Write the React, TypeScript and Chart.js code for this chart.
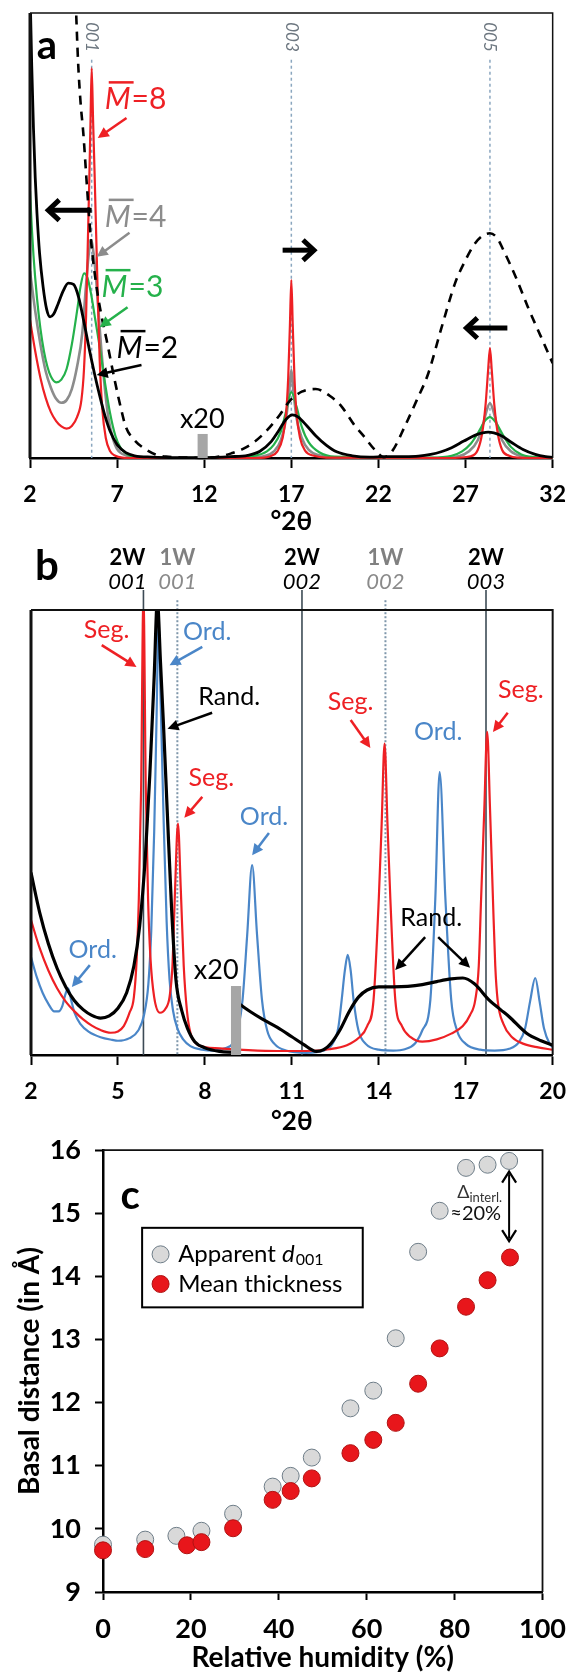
import { useEffect, useRef } from 'react';
import { Chart, registerables } from 'chart.js';

Chart.register(...registerables);

const FONT = 'Lato, "Open Sans", "DejaVu Sans", sans-serif';

// ---------------- Panel a : °2θ vs relative intensity ----------------
const aTicks = [2, 7, 12, 17, 22, 27, 32];
const aReflexPos = [5.54, 17.0, 28.4];
const aReflexLabels = ['001', '003', '005'];

const aM2: [number, number][] = [
  [2.0, 106], [2.1, 88], [2.2, 74], [2.3, 63], [2.4, 55], [2.55, 46], [2.75, 38.5], [2.95, 33.5],
  [3.15, 31.7], [3.35, 32.3], [3.6, 34.5], [3.9, 37.5], [4.2, 39.3], [4.5, 39], [4.8, 36], [5.1, 30.5],
  [5.4, 24.5], [5.7, 19], [6.0, 14], [6.3, 9.5], [6.6, 6], [7.0, 3], [7.5, 1.2], [8.0, 0.5], [9.0, 0.2],
  [10.5, 0.1], [12, 0.1], [13.5, 0.3], [14.5, 0.6], [15.2, 1.5], [15.8, 3.5], [16.3, 6.3], [16.7, 8.7],
  [17.05, 9.7], [17.4, 9.2], [17.9, 7.2], [18.4, 5], [19.0, 2.9], [19.6, 1.4], [20.5, 0.5], [21.5, 0.2],
  [22.5, 0.3], [23.5, 0.3], [24.3, 0.4], [25.0, 0.8], [25.6, 1.4], [26.2, 2.3], [26.9, 3.8], [27.6, 5.2],
  [28.3, 5.8], [29.0, 5.1], [29.6, 3.6], [30.3, 1.9], [31.0, 0.8], [31.6, 0.3], [32, 0.15],
];
const aM3: [number, number][] = [
  [2.0, 60], [2.1, 52], [2.2, 45.5], [2.4, 36], [2.6, 29], [2.8, 24], [3.0, 20.5], [3.2, 18.3], [3.5, 17],
  [3.8, 17.6], [4.1, 20], [4.4, 25.5], [4.7, 33], [4.9, 38.5], [5.1, 41.5], [5.3, 40.5], [5.5, 37],
  [5.75, 31], [6.0, 25], [6.3, 17], [6.6, 10], [6.9, 5], [7.2, 2.3], [7.6, 0.8], [8.3, 0.2], [10, 0],
  [14, 0.2], [15.0, 0.6], [15.6, 1.5], [16.0, 3], [16.4, 6], [16.7, 10.5], [17.0, 14.8], [17.3, 11.5],
  [17.6, 7], [18.0, 3.5], [18.6, 1.3], [19.5, 0.3], [25, 0.1], [26.2, 0.5], [26.8, 1.5], [27.3, 3.2],
  [27.8, 6.2], [28.1, 8.3], [28.4, 9.2], [28.7, 8.2], [29.1, 5.5], [29.6, 2.5], [30.2, 0.8], [31, 0.2], [32, 0.05],
];
const aM4: [number, number][] = [
  [2.0, 42], [2.3, 33], [2.6, 25.5], [2.9, 19.5], [3.2, 15.8], [3.5, 13.3], [3.8, 12.4], [4.1, 13],
  [4.4, 15.5], [4.7, 20.5], [5.0, 28], [5.2, 38], [5.35, 45], [5.5, 49], [5.65, 46], [5.8, 40], [5.95, 32],
  [6.1, 24], [6.3, 15.5], [6.5, 9], [6.75, 4.5], [7.0, 2], [7.5, 0.6], [8.5, 0.1], [12, 0], [14.5, 0.1],
  [15.5, 0.5], [16.0, 1.5], [16.4, 4], [16.7, 9], [16.88, 15], [17.0, 19.8], [17.12, 15], [17.3, 9],
  [17.6, 4.5], [18.0, 1.8], [18.6, 0.6], [19.5, 0.1], [25, 0], [26.6, 0.4], [27.2, 1.5], [27.7, 4],
  [28.0, 7.5], [28.2, 10.5], [28.4, 12.3], [28.6, 10.5], [28.8, 7.5], [29.1, 4], [29.6, 1.5], [30.2, 0.4],
  [31, 0.1], [32, 0],
];
const aM8: [number, number][] = [
  [2.0, 31], [2.3, 24], [2.6, 18], [2.9, 13.5], [3.2, 10.3], [3.5, 8.3], [3.8, 7.1], [4.1, 6.6], [4.4, 7.2],
  [4.7, 9.2], [4.95, 13], [5.1, 20], [5.22, 32], [5.3, 45], [5.4, 62], [5.47, 75], [5.54, 87.6], [5.62, 76],
  [5.7, 65], [5.8, 50], [5.9, 35], [6.0, 22], [6.15, 11], [6.35, 4.5], [6.6, 1.5], [6.9, 0.5], [7.3, 0.1],
  [8, 0], [15, 0], [15.8, 0.4], [16.2, 1.5], [16.5, 4.5], [16.7, 10], [16.82, 18], [16.92, 30], [17.0, 40],
  [17.08, 30], [17.18, 18], [17.3, 10], [17.5, 4.5], [17.8, 1.6], [18.3, 0.5], [19, 0.1], [26, 0],
  [27.3, 0.4], [27.7, 1.8], [27.95, 5.5], [28.15, 12], [28.3, 20], [28.4, 24.7], [28.5, 20], [28.65, 12],
  [28.85, 5.5], [29.1, 1.8], [29.5, 0.5], [30, 0.1], [32, 0],
];
const aDashed: [number, number][] = [
  [4.62, 103], [4.76, 89], [4.9, 80], [5.06, 73], [5.27, 61], [5.5, 49], [5.8, 39], [6.1, 32], [6.4, 26.5],
  [6.86, 17.5], [7.2, 11.5], [7.5, 7], [8.0, 4], [8.5, 2.3], [9.2, 0.8], [9.8, 0.3], [11, 0.1], [12, 0],
  [13, 0.4], [13.6, 1.1], [14.2, 2], [14.8, 3.4], [15.5, 5.8], [16.3, 9.5], [16.9, 12.8], [17.6, 14.9],
  [18.4, 15.5], [19.2, 14], [19.9, 11.5], [20.6, 7.5], [21.2, 4.7], [21.8, 1.8], [22.3, 0.2], [22.8, 1.6],
  [23.5, 7], [24.2, 13], [24.86, 19], [25.6, 29], [26.4, 39.3], [27.0, 44.5], [27.5, 48], [28.0, 50],
  [28.4, 50.5], [28.8, 49.5], [29.2, 46.5], [29.9, 40.5], [30.57, 34], [31.3, 27.5], [32, 21.3],
];

// ---------------- Panel b ----------------
const bTicks = [2, 5, 8, 11, 14, 17, 20];
const b2WPos = [5.88, 11.35, 17.7];
const b2WLabels = ['001', '002', '003'];
const b1WPos = [7.05, 14.23];
const b1WLabels = ['001', '002'];

const bSeg: [number, number][] = [
  [2.0, 30.3], [2.3, 24], [2.6, 19], [2.9, 15], [3.2, 12], [3.5, 9.8], [3.8, 8], [4.1, 6.6], [4.4, 5.6],
  [4.75, 5], [5.0, 5.3], [5.2, 6.5], [5.4, 9.5], [5.55, 13], [5.65, 22], [5.72, 35], [5.8, 60], [5.88, 104],
  [5.96, 60], [6.04, 35], [6.12, 22], [6.25, 13], [6.45, 9.5], [6.65, 10.5], [6.78, 13], [6.88, 20],
  [6.97, 37], [7.07, 52], [7.17, 37], [7.27, 20], [7.38, 10], [7.5, 5], [7.7, 2.6], [8.0, 1.8], [8.5, 1.5],
  [9.5, 1.1], [10.5, 0.9], [11.5, 0.9], [12.3, 1.3], [12.9, 2.2], [13.3, 3.8], [13.6, 6.5], [13.82, 12.4],
  [14.0, 35], [14.1, 52], [14.2, 70], [14.3, 52], [14.4, 35], [14.57, 12.4], [14.8, 6.5], [15.1, 4],
  [15.5, 3], [16.0, 3.5], [16.5, 4.8], [16.9, 6.5], [17.15, 9], [17.33, 12.4], [17.45, 20], [17.53, 35],
  [17.64, 55], [17.74, 72.6], [17.84, 55], [17.94, 35], [18.02, 20], [18.1, 12.4], [18.3, 7], [18.6, 4],
  [19.0, 2.5], [19.5, 1.7], [20, 1.2],
];
const bOrd: [number, number][] = [
  [2.0, 22], [2.2, 17.5], [2.4, 14], [2.6, 11.5], [2.8, 9.8], [2.95, 9.8], [3.08, 11], [3.18, 13.5],
  [3.28, 15], [3.38, 12.5], [3.5, 9.5], [3.7, 7], [4.0, 5.2], [4.4, 4], [4.8, 3.4], [5.0, 3.2], [5.4, 3.8],
  [5.7, 5.5], [5.9, 9], [6.05, 16], [6.15, 28], [6.25, 50], [6.33, 75], [6.4, 97], [6.48, 78], [6.58, 52],
  [6.68, 30], [6.78, 17], [6.9, 10], [7.05, 6], [7.25, 3.5], [7.5, 2], [7.9, 1.2], [8.3, 1], [8.7, 1.5],
  [9.0, 3], [9.15, 6], [9.3, 12.4], [9.46, 27], [9.63, 42.7], [9.8, 27], [9.97, 12.4], [10.15, 5.5],
  [10.4, 2.5], [10.8, 1], [11.5, 0.5], [12.1, 1], [12.4, 2.5], [12.6, 6], [12.72, 12.4], [12.83, 19],
  [12.93, 22.5], [13.03, 19], [13.13, 12.4], [13.3, 5.5], [13.55, 2.5], [14.0, 1.2], [14.5, 1], [14.9, 1.3],
  [15.25, 2.6], [15.5, 5.5], [15.78, 12.4], [15.95, 35], [16.1, 63.6], [16.3, 35], [16.5, 12.4],
  [16.7, 5.5], [17.0, 2.5], [17.5, 1.2], [18.0, 1], [18.5, 1.4], [18.85, 3], [19.05, 6], [19.22, 12],
  [19.4, 17.3], [19.55, 12], [19.7, 6], [19.9, 2.5], [20, 1.8],
];
const bRandLow: [number, number][] = [
  [2.0, 41], [2.3, 32], [2.6, 25], [2.9, 19.5], [3.2, 15.3], [3.5, 12.2], [3.8, 10.2], [4.1, 8.9],
  [4.4, 8.3], [4.7, 8.8], [5.0, 10.5], [5.3, 14], [5.55, 20], [5.75, 29], [5.95, 45], [6.1, 63], [6.25, 85],
  [6.36, 102], [6.47, 88], [6.58, 73], [6.7, 55], [6.85, 33], [7.0, 17], [7.2, 10], [7.4, 6], [7.65, 3],
  [8.0, 1.6], [8.5, 0.8], [9.0, 0.6],
];
const bRandX20: [number, number][] = [
  [9.2, 11.4], [9.6, 9.6], [10.0, 8], [10.5, 6.2], [11.0, 4.1], [11.4, 2.4], [11.85, 0.8], [12.1, 1.2],
  [12.35, 2.6], [12.65, 5.5], [13.0, 10], [13.3, 13], [13.6, 14.6], [14.0, 15.3], [14.5, 15.3], [15.0, 15.4],
  [15.5, 15.8], [16.0, 16.5], [16.5, 17.1], [16.9, 17.3], [17.3, 16], [17.8, 12.4], [18.2, 10.2],
  [18.5, 8.6], [19.1, 4.9], [19.6, 3.2], [20, 2.2],
];

// ---------------- Panel c : basal distance vs relative humidity ----------------
const cXTicks = [0, 20, 40, 60, 80, 100];
const cApparentRH = [0, 9.6, 16.7, 22.4, 29.6, 38.6, 42.7, 47.5, 56.3, 61.5, 66.6, 71.7, 76.6, 82.6, 87.5, 92.4];
const cApparentD = [9.75, 9.83, 9.89, 9.97, 10.24, 10.67, 10.84, 11.13, 11.91, 12.19, 13.02, 14.39, 15.04, 15.72, 15.77, 15.83];
const cMeanRH = [0, 9.6, 19.1, 22.4, 29.6, 38.6, 42.7, 47.5, 56.3, 61.5, 66.6, 71.7, 76.6, 82.6, 87.5, 92.6];
const cMeanD = [9.66, 9.68, 9.74, 9.79, 10.01, 10.46, 10.6, 10.8, 11.2, 11.41, 11.68, 12.3, 12.86, 13.52, 13.94, 14.3];

// ---------------- helpers ----------------
const xy = (arr: [number, number][]) => arr.map(([x, y]) => ({ x, y }));

const RED = '#ee2024';
const GRAY = '#8c8c8c';
const GREEN = '#25b14b';
const BLUE = '#4a86c8';

function lineDs(arr: [number, number][], color: string, width: number, dash: number[] = []) {
  return {
    data: xy(arr),
    borderColor: color,
    borderWidth: width,
    borderDash: dash,
    pointRadius: 0,
    fill: false,
    cubicInterpolationMode: 'monotone',
    clip: { left: 0, top: 0, right: 0, bottom: 4 },
  };
}

function arrow(ctx: any, x1: number, y1: number, x2: number, y2: number, color: string, lw = 2.5, head = 11, half = 5.5) {
  const ang = Math.atan2(y2 - y1, x2 - x1);
  const c = Math.cos(ang), s = Math.sin(ang);
  const bx = x2 - head * c, by = y2 - head * s;
  ctx.save();
  ctx.strokeStyle = color;
  ctx.fillStyle = color;
  ctx.lineWidth = lw;
  ctx.setLineDash([]);
  ctx.beginPath();
  ctx.moveTo(x1, y1);
  ctx.lineTo(bx + c, by + s);
  ctx.stroke();
  ctx.beginPath();
  ctx.moveTo(x2, y2);
  ctx.lineTo(bx - half * s, by + half * c);
  ctx.lineTo(bx + half * s, by - half * c);
  ctx.closePath();
  ctx.fill();
  ctx.restore();
}

function chevronArrow(ctx: any, x1: number, y1: number, x2: number, y2: number, lw = 5, arm = 15) {
  const ang = Math.atan2(y2 - y1, x2 - x1);
  ctx.save();
  ctx.strokeStyle = '#000';
  ctx.lineWidth = lw;
  ctx.lineJoin = 'miter';
  ctx.setLineDash([]);
  ctx.beginPath();
  ctx.moveTo(x1, y1);
  ctx.lineTo(x2, y2);
  ctx.stroke();
  const a1 = ang + Math.PI - 0.75, a2 = ang + Math.PI + 0.75;
  ctx.beginPath();
  ctx.moveTo(x2 + arm * Math.cos(a1), y2 + arm * Math.sin(a1));
  ctx.lineTo(x2, y2);
  ctx.lineTo(x2 + arm * Math.cos(a2), y2 + arm * Math.sin(a2));
  ctx.stroke();
  ctx.restore();
}

function text(ctx: any, s: string, x: number, y: number, font: string, color: string, align = 'center', base = 'middle') {
  ctx.save();
  ctx.font = font;
  ctx.fillStyle = color;
  ctx.textAlign = align;
  ctx.textBaseline = base;
  ctx.fillText(s, x, y);
  ctx.restore();
}

function mBarLabel(ctx: any, x: number, y: number, num: string, color: string) {
  ctx.save();
  ctx.fillStyle = color;
  ctx.textAlign = 'left';
  ctx.textBaseline = 'alphabetic';
  ctx.font = `italic 30px ${FONT}`;
  const wM = ctx.measureText('M').width;
  ctx.fillText('M', x, y);
  ctx.font = `30px ${FONT}`;
  ctx.fillText('=' + num, x + wM + 1, y);
  ctx.fillRect(x + 4, y - 28, wM - 1, 2.5);
  ctx.restore();
}

function tickFont(size: number) {
  return { family: FONT, size, weight: 'bold' as const };
}

// ---------------- chart builders ----------------
function makeA(canvas: HTMLCanvasElement) {
  const plugin = {
    id: 'panelA',
    beforeDatasetsDraw(chart: any) {
      const { ctx, chartArea: ca, scales } = chart;
      const X = (v: number) => scales.x.getPixelForValue(v);
      const Y = (v: number) => scales.y.getPixelForValue(v);
      ctx.save();
      ctx.strokeStyle = '#8aa6bf';
      ctx.lineWidth = 1.5;
      ctx.setLineDash([3, 3]);
      aReflexPos.forEach((p) => {
        ctx.beginPath();
        ctx.moveTo(X(p), Y(89.5));
        ctx.lineTo(X(p), ca.bottom);
        ctx.stroke();
      });
      ctx.restore();
      aReflexPos.forEach((p, i) => {
        ctx.save();
        ctx.translate(X(p), Y(94.6));
        ctx.rotate(Math.PI / 2);
        text(ctx, aReflexLabels[i], 0, 0, `italic 17px ${FONT}`, '#6d7780');
        ctx.restore();
      });
    },
    afterDatasetsDraw(chart: any) {
      const { ctx, chartArea: ca, scales } = chart;
      const X = (v: number) => scales.x.getPixelForValue(v);
      const Y = (v: number) => scales.y.getPixelForValue(v);
      // frame
      ctx.save();
      ctx.strokeStyle = '#111';
      ctx.lineWidth = 1.5;
      ctx.beginPath();
      ctx.moveTo(ca.left, ca.top);
      ctx.lineTo(ca.right, ca.top);
      ctx.lineTo(ca.right, ca.bottom);
      ctx.stroke();
      ctx.lineWidth = 3;
      ctx.beginPath();
      ctx.moveTo(ca.left, ca.top);
      ctx.lineTo(ca.left, ca.bottom);
      ctx.stroke();
      ctx.restore();
      // x20 marker
      ctx.save();
      ctx.fillStyle = '#a6a6a6';
      ctx.fillRect(X(11.62), Y(5.4), X(12.2) - X(11.62), Y(0) - Y(5.4));
      ctx.restore();
      text(ctx, 'x20', X(11.89), Y(8.6), `27px ${FONT}`, '#000');
      text(ctx, 'a', X(2.97), Y(92.6), `bold 40px ${FONT}`, '#000');
      // M labels + arrows
      mBarLabel(ctx, X(6.29), Y(78.4), '8', RED);
      arrow(ctx, X(7.54), Y(76.4), X(5.89), Y(71.9), RED);
      mBarLabel(ctx, X(6.29), Y(52.0), '4', GRAY);
      arrow(ctx, X(7.71), Y(50.6), X(5.83), Y(45.2), GRAY);
      mBarLabel(ctx, X(6.11), Y(36.2), '3', GREEN);
      arrow(ctx, X(7.6), Y(33.9), X(6.0), Y(29.4), GREEN);
      mBarLabel(ctx, X(6.97), Y(22.5), '2', '#000');
      arrow(ctx, X(8.4), Y(20.9), X(5.83), Y(18.65), '#000');
      // shift arrows
      chevronArrow(ctx, X(5.54), Y(55.7), X(3.05), Y(55.7));
      chevronArrow(ctx, X(16.5), Y(46.7), X(18.3), Y(46.7));
      chevronArrow(ctx, X(29.4), Y(29.2), X(27.05), Y(29.2));
    },
  };
  return new Chart(canvas, {
    type: 'line',
    data: {
      datasets: [
        lineDs(aM2, '#000', 2.8),
        lineDs(aDashed, '#000', 2.6, [9, 7]),
        lineDs(aM8, RED, 2.2),
        lineDs(aM3, GREEN, 2.2),
        lineDs(aM4, GRAY, 2.6),
      ] as any,
    },
    options: {
      animation: false,
      responsive: false,
      events: [],
      layout: { padding: { left: 30, right: 24, top: 13, bottom: 0 } },
      plugins: { legend: { display: false }, tooltip: { enabled: false } },
      scales: {
        x: {
          type: 'linear',
          min: 2,
          max: 32,
          afterBuildTicks: (s: any) => {
            s.ticks = aTicks.map((v) => ({ value: v }));
          },
          afterFit: (s: any) => {
            s.height = 82;
          },
          ticks: { font: tickFont(23), color: '#000', padding: 13, maxRotation: 0 },
          grid: { drawOnChartArea: false, drawTicks: true, tickLength: 10, tickColor: '#000', tickWidth: 2 },
          border: { display: true, color: '#000', width: 2.5 },
          title: { display: true, text: '°2θ', color: '#000', font: { family: FONT, size: 26, weight: 'bold', lineHeight: 1.2 }, padding: { top: 0, bottom: 3 } },
        },
        y: { display: false, min: 0, max: 100 },
      },
    } as any,
    plugins: [plugin],
  });
}

function makeB(canvas: HTMLCanvasElement) {
  const plugin = {
    id: 'panelB',
    beforeDatasetsDraw(chart: any) {
      const { ctx, chartArea: ca, scales } = chart;
      const X = (v: number) => scales.x.getPixelForValue(v);
      const Y = (v: number) => scales.y.getPixelForValue(v);
      ctx.save();
      ctx.strokeStyle = '#3d4b55';
      ctx.lineWidth = 1.6;
      b2WPos.forEach((p) => {
        ctx.beginPath();
        ctx.moveTo(X(p), Y(104.5));
        ctx.lineTo(X(p), ca.bottom);
        ctx.stroke();
      });
      ctx.strokeStyle = '#7f97ab';
      ctx.lineWidth = 2;
      ctx.setLineDash([2, 2]);
      b1WPos.forEach((p) => {
        ctx.beginPath();
        ctx.moveTo(X(p), Y(102.2));
        ctx.lineTo(X(p), ca.bottom);
        ctx.stroke();
      });
      ctx.restore();
      b2WPos.forEach((p, i) => {
        const cx = i === 0 ? X(p) - 16 : X(p);
        text(ctx, '2W', cx, Y(111.7), `bold 22px ${FONT}`, '#000');
        text(ctx, b2WLabels[i], cx, Y(106.3), `italic 22px ${FONT}`, '#000');
      });
      b1WPos.forEach((p, i) => {
        text(ctx, '1W', X(p), Y(111.7), `bold 22px ${FONT}`, '#808080');
        text(ctx, b1WLabels[i], X(p), Y(106.3), `italic 22px ${FONT}`, '#8a8a8a');
      });
    },
    afterDatasetsDraw(chart: any) {
      const { ctx, chartArea: ca, scales } = chart;
      const X = (v: number) => scales.x.getPixelForValue(v);
      const Y = (v: number) => scales.y.getPixelForValue(v);
      ctx.save();
      ctx.strokeStyle = '#111';
      ctx.lineWidth = 2;
      ctx.beginPath();
      ctx.moveTo(ca.left, ca.top);
      ctx.lineTo(ca.right, ca.top);
      ctx.lineTo(ca.right, ca.bottom);
      ctx.stroke();
      ctx.lineWidth = 3;
      ctx.beginPath();
      ctx.moveTo(ca.left, ca.top);
      ctx.lineTo(ca.left, ca.bottom);
      ctx.stroke();
      ctx.fillStyle = '#a6a6a6';
      ctx.fillRect(X(8.9), Y(15.5), X(9.25) - X(8.9), Y(0) - Y(15.5));
      ctx.restore();
      text(ctx, 'x20', X(8.39), Y(19.1), `27px ${FONT}`, '#000');
      text(ctx, 'b', X(2.55), Y(109.7), `bold 42px ${FONT}`, '#000');
      const f = `25px ${FONT}`;
      text(ctx, 'Seg.', X(4.61), Y(95.5), f, RED);
      arrow(ctx, X(4.44), Y(92.1), X(5.64), Y(87.2), RED);
      text(ctx, 'Ord.', X(8.08), Y(95.1), f, BLUE);
      arrow(ctx, X(7.91), Y(91.7), X(6.78), Y(87.6), BLUE);
      text(ctx, 'Rand.', X(8.84), Y(80.4), f, '#000');
      arrow(ctx, X(8.25), Y(76.9), X(6.71), Y(73.3), '#000');
      text(ctx, 'Seg.', X(8.22), Y(62.2), f, RED);
      arrow(ctx, X(7.91), Y(58), X(7.29), Y(53.3), RED);
      text(ctx, 'Ord.', X(10.04), Y(53.5), f, BLUE);
      arrow(ctx, X(10.21), Y(49.9), X(9.63), Y(44.9), BLUE);
      text(ctx, 'Ord.', X(4.13), Y(23.6), f, BLUE);
      arrow(ctx, X(4.03), Y(20.2), X(3.41), Y(15.3), BLUE);
      text(ctx, 'Seg.', X(13.03), Y(79.3), f, RED);
      arrow(ctx, X(13.03), Y(75.3), X(13.71), Y(69), RED);
      text(ctx, 'Seg.', X(18.9), Y(82), f, RED);
      arrow(ctx, X(18.45), Y(76.9), X(17.94), Y(72.6), RED);
      text(ctx, 'Ord.', X(16.05), Y(72.6), f, BLUE);
      text(ctx, 'Rand.', X(15.81), Y(30.8), f, '#000');
      arrow(ctx, X(15.6), Y(26.5), X(14.57), Y(19.1), '#000');
      arrow(ctx, X(16.05), Y(26.5), X(17.15), Y(19.6), '#000');
    },
  };
  return new Chart(canvas, {
    type: 'line',
    data: {
      datasets: [
        lineDs(bRandLow, '#000', 3.2),
        lineDs(bRandX20, '#000', 3.2),
        lineDs(bSeg, RED, 2.2),
        lineDs(bOrd, BLUE, 2.2),
      ] as any,
    },
    options: {
      animation: false,
      responsive: false,
      events: [],
      layout: { padding: { left: 31, right: 24, top: 70, bottom: 0 } },
      plugins: { legend: { display: false }, tooltip: { enabled: false } },
      scales: {
        x: {
          type: 'linear',
          min: 2,
          max: 20,
          afterBuildTicks: (s: any) => {
            s.ticks = bTicks.map((v) => ({ value: v }));
          },
          afterFit: (s: any) => {
            s.height = 85;
          },
          ticks: { font: tickFont(23), color: '#000', padding: 13, maxRotation: 0 },
          grid: { drawOnChartArea: false, drawTicks: true, tickLength: 10, tickColor: '#000', tickWidth: 2 },
          border: { display: true, color: '#000', width: 2.5 },
          title: { display: true, text: '°2θ', color: '#000', font: { family: FONT, size: 26, weight: 'bold', lineHeight: 1.2 }, padding: { top: 0, bottom: 3 } },
        },
        y: { display: false, min: 0, max: 100 },
      },
    } as any,
    plugins: [plugin],
  });
}

function makeC(canvas: HTMLCanvasElement) {
  const plugin = {
    id: 'panelC',
    afterDatasetsDraw(chart: any) {
      const { ctx, chartArea: ca, scales } = chart;
      const X = (v: number) => scales.x.getPixelForValue(v);
      const Y = (v: number) => scales.y.getPixelForValue(v);
      ctx.save();
      ctx.strokeStyle = '#111';
      ctx.lineWidth = 1.8;
      ctx.beginPath();
      ctx.moveTo(ca.left, ca.top);
      ctx.lineTo(ca.right, ca.top);
      ctx.lineTo(ca.right, ca.bottom);
      ctx.stroke();
      ctx.restore();
      text(ctx, 'c', X(6.2), Y(15.28), `bold 40px ${FONT}`, '#000');
      // legend box
      const lx1 = X(8.9), lx2 = X(59.1), ly1 = Y(14.77), ly2 = Y(13.51);
      ctx.save();
      ctx.fillStyle = '#fff';
      ctx.fillRect(lx1, ly1, lx2 - lx1, ly2 - ly1);
      ctx.strokeStyle = '#000';
      ctx.lineWidth = 2;
      ctx.strokeRect(lx1, ly1, lx2 - lx1, ly2 - ly1);
      const mx = X(13.1);
      ctx.beginPath();
      ctx.arc(mx, Y(14.35), 8.5, 0, Math.PI * 2);
      ctx.fillStyle = '#d9d9d9';
      ctx.fill();
      ctx.strokeStyle = '#6e7d88';
      ctx.lineWidth = 1;
      ctx.stroke();
      ctx.beginPath();
      ctx.arc(mx, Y(13.88), 8.5, 0, Math.PI * 2);
      ctx.fillStyle = '#e8161b';
      ctx.fill();
      ctx.strokeStyle = '#b01212';
      ctx.stroke();
      ctx.restore();
      const tx = X(17.1);
      ctx.save();
      ctx.fillStyle = '#000';
      ctx.textBaseline = 'middle';
      ctx.textAlign = 'left';
      ctx.font = `24px ${FONT}`;
      ctx.fillText('Apparent ', tx, Y(14.35));
      let w = ctx.measureText('Apparent ').width;
      ctx.font = `italic 24px ${FONT}`;
      ctx.fillText('d', tx + w, Y(14.35));
      w += ctx.measureText('d').width;
      ctx.font = `16px ${FONT}`;
      ctx.fillText('001', tx + w + 1, Y(14.35) + 6);
      ctx.font = `24px ${FONT}`;
      ctx.fillText('Mean thickness', tx, Y(13.88));
      ctx.restore();
      // interlayer difference annotation
      const ax = X(92.4);
      ctx.save();
      ctx.strokeStyle = '#000';
      ctx.lineWidth = 2;
      ctx.beginPath();
      ctx.moveTo(ax, Y(15.62));
      ctx.lineTo(ax, Y(14.6));
      ctx.stroke();
      ctx.lineWidth = 2.2;
      const top = Y(15.66), bot = Y(14.56);
      ctx.beginPath();
      ctx.moveTo(ax - 7, top + 11);
      ctx.lineTo(ax, top);
      ctx.lineTo(ax + 7, top + 11);
      ctx.moveTo(ax - 7, bot - 11);
      ctx.lineTo(ax, bot);
      ctx.lineTo(ax + 7, bot - 11);
      ctx.stroke();
      ctx.restore();
      ctx.save();
      ctx.fillStyle = '#333';
      ctx.textBaseline = 'middle';
      ctx.textAlign = 'left';
      ctx.font = `18px ${FONT}`;
      const dx = X(80.6);
      ctx.fillText('Δ', dx, Y(15.33));
      const dw = ctx.measureText('Δ').width;
      ctx.font = `13px ${FONT}`;
      ctx.fillText('interl.', dx + dw, Y(15.33) + 5);
      ctx.restore();
      text(ctx, '≈20%', X(84.8), Y(15.0), `20px ${FONT}`, '#111');
    },
  };
  return new Chart(canvas, {
    type: 'scatter',
    data: {
      datasets: [
        {
          data: cMeanRH.map((x, i) => ({ x, y: cMeanD[i] })),
          pointRadius: 8.5,
          pointBackgroundColor: '#e8161b',
          pointBorderColor: '#b01212',
          pointBorderWidth: 1,
          clip: false,
        },
        {
          data: cApparentRH.map((x, i) => ({ x, y: cApparentD[i] })),
          pointRadius: 8.5,
          pointBackgroundColor: '#d9d9d9',
          pointBorderColor: '#6e7d88',
          pointBorderWidth: 1,
          clip: false,
        },
      ] as any,
    },
    options: {
      animation: false,
      responsive: false,
      events: [],
      layout: { padding: { left: 0, right: 26, top: 27, bottom: 0 } },
      plugins: { legend: { display: false }, tooltip: { enabled: false } },
      scales: {
        x: {
          type: 'linear',
          min: 0,
          max: 100,
          afterBuildTicks: (s: any) => {
            s.ticks = cXTicks.map((v) => ({ value: v }));
          },
          afterFit: (s: any) => {
            s.height = 80;
          },
          ticks: { font: tickFont(27), color: '#000', padding: 13, maxRotation: 0 },
          grid: { drawOnChartArea: false, drawTicks: true, tickLength: 8, tickColor: '#000', tickWidth: 2 },
          border: { display: true, color: '#000', width: 2.5 },
          title: { display: true, text: 'Relative humidity (%)', color: '#000', font: { family: FONT, size: 28, weight: 'bold', lineHeight: 1.0 }, padding: { top: 0, bottom: 0 } },
        },
        y: {
          type: 'linear',
          min: 9,
          max: 16,
          ticks: { stepSize: 1, font: tickFont(27), color: '#000', padding: 14 },
          afterFit: (s: any) => {
            s.width = 103;
          },
          grid: { drawOnChartArea: false, drawTicks: true, tickLength: 8, tickColor: '#000', tickWidth: 2 },
          border: { display: true, color: '#000', width: 2.5 },
          title: { display: true, text: 'Basal distance (in Å)', color: '#000', font: { family: FONT, size: 28, weight: 'bold', lineHeight: 1.2 }, padding: { top: 13, bottom: 0 } },
        },
      },
    } as any,
    plugins: [plugin],
  });
}

export default function App() {
  const refA = useRef<HTMLCanvasElement>(null);
  const refB = useRef<HTMLCanvasElement>(null);
  const refC = useRef<HTMLCanvasElement>(null);

  useEffect(() => {
    const charts = [makeA(refA.current!), makeB(refB.current!), makeC(refC.current!)];
    return () => charts.forEach((c) => c.destroy());
  }, []);

  const abs = (top: number, h: number) => ({ position: 'absolute' as const, left: 0, top, width: 579, height: h, display: 'block' });

  return (
    <div style={{ position: 'absolute', left: 0, top: 0, width: 579, height: 1672, background: '#fff', overflow: 'hidden' }}>
      <canvas ref={refA} width={579} height={540} style={abs(0, 540)} />
      <canvas ref={refB} width={579} height={600} style={abs(540, 600)} />
      <canvas ref={refC} width={579} height={552} style={abs(1120, 552)} />
    </div>
  );
}
